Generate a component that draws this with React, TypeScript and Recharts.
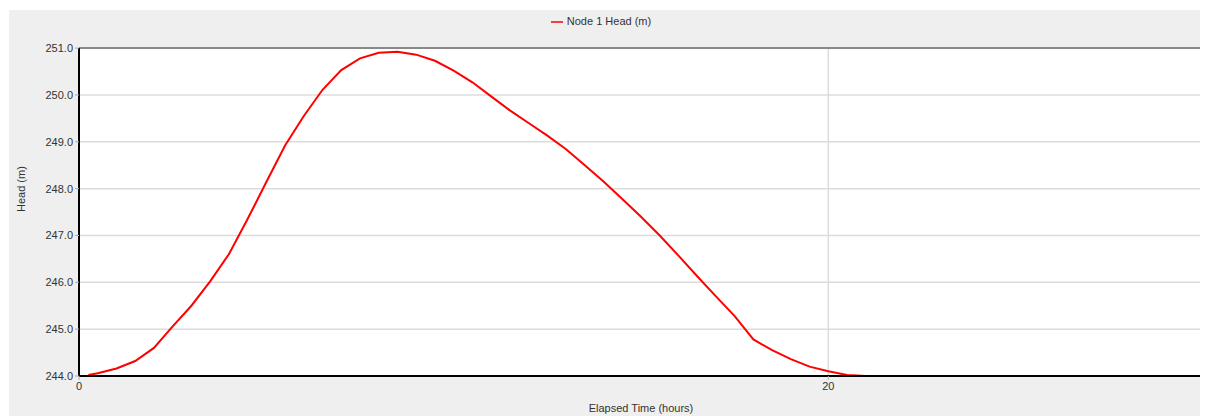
import { CartesianGrid, Legend, Line, LineChart, ReferenceLine, XAxis, YAxis } from "recharts"

// elapsed time (hours)
const hours = [
    0.25, 0.5, 1, 1.5, 2, 2.5, 3, 3.5, 4, 4.5, 5, 5.5, 6, 6.5, 7, 7.5, 8, 8.5, 9, 9.5,
    10, 10.5, 11, 11.5, 12, 12.5, 13, 13.5, 14, 14.5, 15, 15.5, 16, 16.5, 17, 17.5, 18,
    18.5, 19, 19.5, 20, 20.5, 21, 22, 23, 24, 25, 26, 27, 28, 29, 30,
]

// Node 1 head (m)
const head = [
    244.02, 244.06, 244.16, 244.32, 244.6, 245.06, 245.5, 246.02, 246.6, 247.35, 248.14,
    248.92, 249.55, 250.11, 250.53, 250.78, 250.9, 250.92, 250.86, 250.73, 250.52, 250.27,
    249.97, 249.67, 249.4, 249.13, 248.84, 248.5, 248.15, 247.78, 247.4, 247.0, 246.57,
    246.13, 245.7, 245.28, 244.78, 244.55, 244.36, 244.2, 244.1, 244.02, 244.0, 244.0,
    244.0, 244.0, 244.0, 244.0, 244.0, 244.0, 244.0, 244.0,
]

const yTicks = [244, 245, 246, 247, 248, 249, 250, 251]
const xTicks = [0, 20]

const data = hours.map((t, i) => ({ t, head: head[i] }))

const font = "Arial, 'Liberation Sans', sans-serif"
const tickStyle = { fill: "#333", fontSize: 11, fontFamily: font }

export default function App() {
    return (
        <div style={{ marginLeft: 1, marginTop: 2, width: 1200, height: 406, background: "#efefef" }}>
            <LineChart
                width={1199}
                height={406}
                data={data}
                margin={{ top: 25, right: 5, left: 0, bottom: 0 }}
                style={{ fontFamily: font }}
            >
                <CartesianGrid fill="#fff" stroke="#dcdcdc" strokeWidth={1.5} />
                <XAxis
                    type="number"
                    dataKey="t"
                    domain={[0, 30]}
                    ticks={xTicks}
                    height={40}
                    axisLine={{ stroke: "#000", strokeWidth: 2 }}
                    tickLine={{ stroke: "#aaa" }}
                    tickSize={4}
                    tick={tickStyle}
                    label={{ value: "Elapsed Time (hours)", position: "insideBottom", offset: 4, fill: "#333", fontSize: 11 }}
                />
                <YAxis
                    type="number"
                    domain={[244, 251]}
                    ticks={yTicks}
                    width={70}
                    interval={0}
                    axisLine={{ stroke: "#000", strokeWidth: 2 }}
                    tickLine={{ stroke: "#aaa" }}
                    tickSize={4}
                    tick={tickStyle}
                    tickFormatter={(v) => v.toFixed(1)}
                    label={{ value: "Head (m)", angle: -90, position: "insideLeft", offset: 12, fill: "#333", fontSize: 11 }}
                />
                <ReferenceLine y={251} stroke="#888" strokeWidth={2} />
                <ReferenceLine x={30} stroke="#888" strokeWidth={2} />
                <Legend
                    verticalAlign="top"
                    align="center"
                    iconType="plainline"
                    iconSize={12}
                    wrapperStyle={{ top: 5, fontSize: 11 }}
                    formatter={(value) => <span style={{ color: "#333" }}>{value}</span>}
                />
                <Line
                    type="linear"
                    dataKey="head"
                    name="Node 1 Head (m)"
                    stroke="#ff0000"
                    strokeWidth={2}
                    dot={false}
                    isAnimationActive={false}
                />
            </LineChart>
        </div>
    )
}
